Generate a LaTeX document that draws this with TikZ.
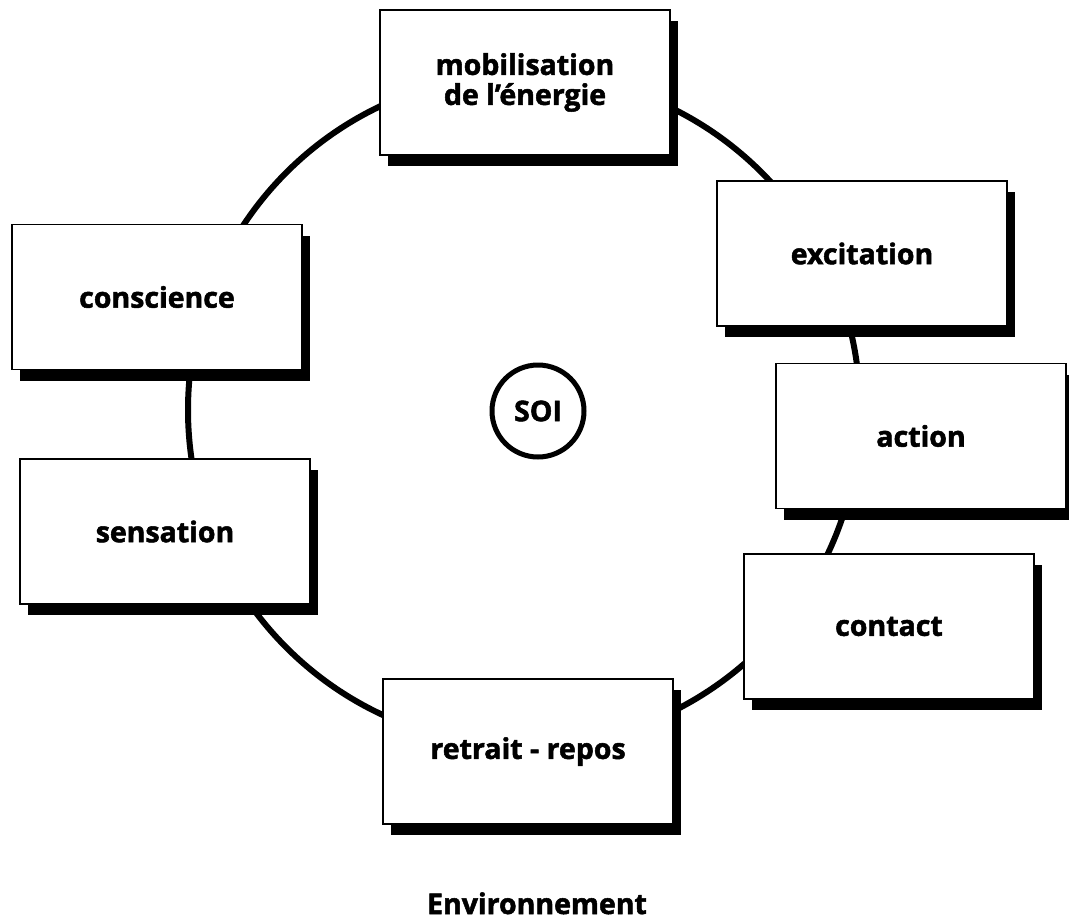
\documentclass[tikz,border=0pt]{standalone}
\usepackage{fontspec}
\setmainfont{Open Sans}[BoldFeatures={FakeBold=1.8}]
\usetikzlibrary{shadows}
\begin{document}
\begin{tikzpicture}[x=1pt,y=-1pt,
  lbl/.style={font=\fontsize{28.5}{30}\selectfont\bfseries, align=center},
  box/.style={lbl, draw=black, line width=1.3pt, fill=white,
    minimum width=290pt, minimum height=145pt, inner sep=0pt,
    drop shadow={shadow xshift=8pt, shadow yshift=-11pt, fill=black, opacity=1}},
  ring/.style={line width=6pt}]
\useasboundingbox (0,0) rectangle (1069,919);
\fill[white] (0,0) rectangle (1069,919);
\draw[ring] (524,410) circle[radius=336];
\node[box] (mob) at (525,82.5) {mobilisation\\de l’énergie};
\node[box] (exc) at (862,253.5) {excitation};
\node[box] (cons) at (157,297) {conscience};
\node[box] (act) at (921,436) {action};
\node[box] (sens) at (165,531.5) {sensation};
\node[box] (cont) at (889,626.5) {contact};
\node[box] (ret) at (528,751.5) {retrait - repos};
\node[lbl, circle, draw, line width=5pt, minimum size=92pt, inner sep=0pt] (soi) at (538,411) {SOI};
\node[lbl, anchor=base] (env) at (537,914) {Environnement};
\end{tikzpicture}
\end{document}
